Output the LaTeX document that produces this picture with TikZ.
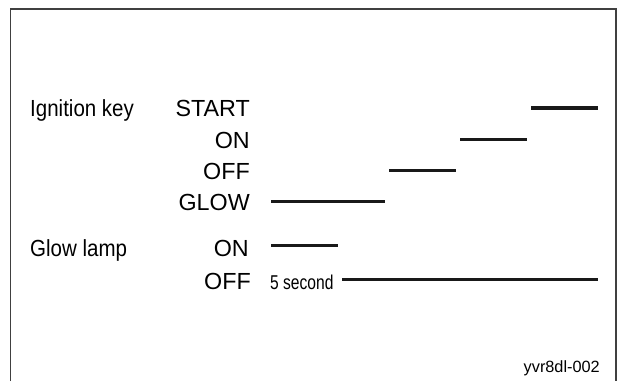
\documentclass[tikz,border=0pt]{standalone}
\usepackage{fontspec}
\setmainfont{Liberation Sans}
\newfontfamily\narrowfont[FakeStretch=0.88]{Liberation Sans}
\newfontfamily\tightfont[FakeStretch=0.78]{Liberation Sans}
\usetikzlibrary{positioning}
\usetikzlibrary{calc}

\tikzset{
    frameline/.style={draw=black!75, line width=1.4pt},
    lbl/.style={inner sep=0pt, font=\fontsize{23.3}{28}\selectfont},
    sidelbl/.style={inner sep=0pt, font=\narrowfont\fontsize{23.3}{28}\selectfont, anchor=base west},
    statelbl/.style={lbl, anchor=base east},
    bar/.style={line width=3.3pt, black!90},
}

\begin{document}
\begin{tikzpicture}[x=1pt, y=-1pt]
    \useasboundingbox (0,0) rectangle (621,381);

    % open frame
    \draw[frameline] (10.5,381) -- (10.5,9) -- (616,9) -- (616,381);

    % ignition key
    \node[sidelbl] (key) at (30,116.5) {Ignition key};
    \node[statelbl] (start) at (250,116.5) {START};
    \node[statelbl] (keyon) at (250,148.3) {ON};
    \node[statelbl] (keyoff) at (250,179) {OFF};
    \node[statelbl] (glow) at (250,210.4) {GLOW};

    % glow lamp
    \node[sidelbl] (lamp) at (30,256.4) {Glow lamp};
    \node[statelbl] (lampon) at (249,256.4) {ON};
    \node[statelbl] (lampoff) at (251,289.6) {OFF};
    \node[inner sep=0pt, anchor=base west, font=\tightfont\fontsize{20}{24}\selectfont] (sec) at (270,289.2) {5 second};

    \node[inner sep=0pt, anchor=base east, font=\fontsize{16.3}{20}\selectfont] (code) at (600,372) {yvr8dl-002};

    % timing bars
    \coordinate (s1) at (531,108);   \coordinate (s2) at (598,108);
    \coordinate (n1) at (460,139.3); \coordinate (n2) at (527,139.3);
    \coordinate (f1) at (389,170.3); \coordinate (f2) at (456,170.3);
    \coordinate (g1) at (271,201.7); \coordinate (g2) at (385,201.7);
    \coordinate (l1) at (271,245.5); \coordinate (l2) at (338,245.5);
    \coordinate (o1) at (342,279.3); \coordinate (o2) at (598,279.3);

    \draw[bar] (s1) -- (s2);
    \draw[bar] (n1) -- (n2);
    \draw[bar] (f1) -- (f2);
    \draw[bar] (g1) -- (g2);
    \draw[bar] (l1) -- (l2);
    \draw[bar] (o1) -- (o2);
\end{tikzpicture}
\end{document}
